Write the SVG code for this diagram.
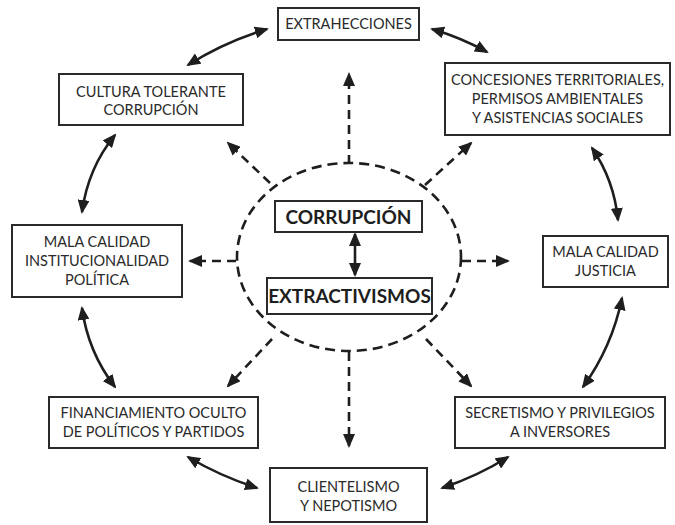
<svg xmlns="http://www.w3.org/2000/svg" width="675" height="525" viewBox="0 0 675 525">
<style>
.box{fill:#fff;stroke:#2a2a2a;stroke-width:2}
.t{font-family:Lato,"Open Sans",sans-serif;font-size:14.5px;fill:#2a2a2a;text-anchor:middle}
.tb{font-family:Lato,"Open Sans",sans-serif;font-size:19px;font-weight:bold;fill:#1e1e1e;text-anchor:middle}
.s{fill:none;stroke:#1e1e1e;stroke-width:2.6;marker-start:url(#ah);marker-end:url(#ah)}
.d{fill:none;stroke:#1e1e1e;stroke-width:2.6;stroke-dasharray:9 6;marker-end:url(#ah)}
</style>
<defs>
<marker id="ah" viewBox="0 0 14 12" refX="12" refY="6" markerWidth="14" markerHeight="12" markerUnits="userSpaceOnUse" orient="auto-start-reverse">
<path d="M0,0 L14,6 L0,12 z" fill="#1e1e1e"/>
</marker>
</defs>
<g id="connectors">
<ellipse cx="349" cy="257" rx="112" ry="94" fill="none" stroke="#1e1e1e" stroke-width="2.6" stroke-dasharray="10 6"/>
<path class="s" d="M188,65 Q224,42 267,29"/>
<path class="s" d="M432,29 Q462,38 487,52"/>
<path class="s" d="M592,148 Q614,180 618,220"/>
<path class="s" d="M622,298 Q612,347 583,387"/>
<path class="s" d="M508,457 Q478,476 442,488"/>
<path class="s" d="M257,488 Q220,476 188,457"/>
<path class="s" d="M115,387 Q88,352 82,308"/>
<path class="s" d="M82,212 Q88,168 115,135"/>
<path class="s" d="M355,234 L355,275"/>
<path class="d" d="M349,164 L349,74"/>
<path class="d" d="M236,261 L190,261"/>
<path class="d" d="M462,261 L508,261"/>
<path class="d" d="M349,352 L349,446"/>
<path class="d" d="M270,183 L228,143"/>
<path class="d" d="M425,185 L471,143"/>
<path class="d" d="M272,339 L228,386"/>
<path class="d" d="M426,339 L471,386"/>
</g>
<g id="extraheciones"><rect class="box" x="278" y="8" width="141" height="32"/><text class="t" x="348.5" y="29">EXTRAHECCIONES</text></g>
<g id="cultura"><rect class="box" x="59" y="74" width="184" height="51"/><text class="t" x="151" y="97">CULTURA TOLERANTE</text><text class="t" x="151" y="115">CORRUPCIÓN</text></g>
<g id="concesiones"><rect class="box" x="445" y="63" width="225" height="72"/><text class="t" x="557.5" y="85">CONCESIONES TERRITORIALES,</text><text class="t" x="557.5" y="104">PERMISOS AMBIENTALES</text><text class="t" x="557.5" y="123">Y ASISTENCIAS SOCIALES</text></g>
<g id="institucional"><rect class="box" x="12" y="225" width="170" height="72"/><text class="t" x="97" y="247">MALA CALIDAD</text><text class="t" x="97" y="266">INSTITUCIONALIDAD</text><text class="t" x="97" y="285">POLÍTICA</text></g>
<g id="justicia"><rect class="box" x="543" y="236" width="125" height="51"/><text class="t" x="605.5" y="257">MALA CALIDAD</text><text class="t" x="605.5" y="276">JUSTICIA</text></g>
<g id="financiamiento"><rect class="box" x="49" y="397" width="209" height="51"/><text class="t" x="153.5" y="418">FINANCIAMIENTO OCULTO</text><text class="t" x="153.5" y="437">DE POLÍTICOS Y PARTIDOS</text></g>
<g id="secretismo"><rect class="box" x="455" y="397" width="210" height="51"/><text class="t" x="560" y="418">SECRETISMO Y PRIVILEGIOS</text><text class="t" x="560" y="437">A INVERSORES</text></g>
<g id="clientelismo"><rect class="box" x="270" y="468" width="157" height="54"/><text class="t" x="348.5" y="492">CLIENTELISMO</text><text class="t" x="348.5" y="511">Y NEPOTISMO</text></g>
<g id="corrupcion"><rect class="box" x="275" y="201" width="147" height="31"/><text class="tb" x="348.5" y="224">CORRUPCIÓN</text></g>
<g id="extractivismos"><rect class="box" x="267" y="278" width="165" height="36"/><text class="tb" x="349.5" y="303">EXTRACTIVISMOS</text></g>
</svg>
